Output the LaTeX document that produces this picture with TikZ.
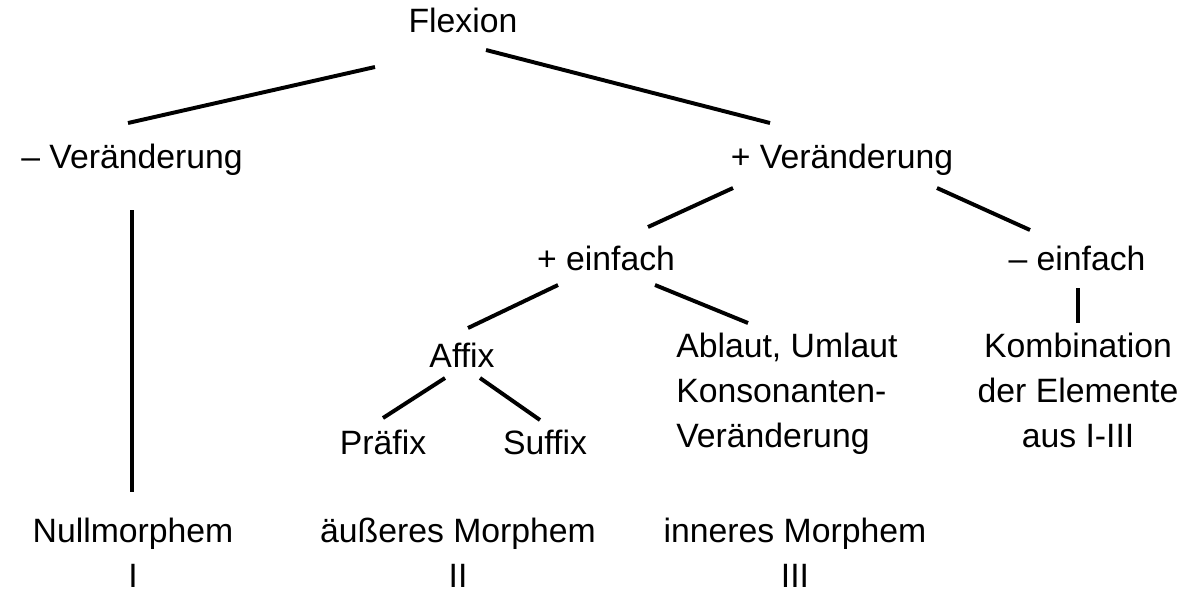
\documentclass[tikz,border=0pt]{standalone}
\usepackage{fontspec}
\setmainfont{Liberation Sans}
\begin{document}
\begin{tikzpicture}[x=0.025cm,y=-0.025cm,
  lbl/.style={font=\fontsize{24}{32}\selectfont,inner sep=0pt,align=center},
  edge/.style={line width=2.8pt}]
\useasboundingbox (0,0) rectangle (1200,600);
\node[lbl] (flex) at (463,20) {Flexion};
\node[lbl] (mv) at (132,160) {– Veränderung};
\node[lbl] (pv) at (842,160) {+ Veränderung};
\node[lbl] (pe) at (606,258) {+ einfach};
\node[lbl] (me) at (1077,258) {– einfach};
\node[lbl] (af) at (462,355) {Affix};
\node[lbl,align=left,anchor=north west] (ab) at (676,333) {Ablaut, Umlaut\\Konsonanten-\\Veränderung};
\node[lbl,anchor=north] (ko) at (1078,333) {Kombination\\der Elemente\\aus I-III};
\node[lbl] (pr) at (383,442) {Präfix};
\node[lbl] (su) at (545,442) {Suffix};
\node[lbl,anchor=north] (nm) at (133,518) {Nullmorphem\\I};
\node[lbl,anchor=north] (am) at (458,518) {äußeres Morphem\\II};
\node[lbl,anchor=north] (im) at (795,518) {inneres Morphem\\III};
\coordinate (a1) at (128,123); \coordinate (a2) at (375,67);
\coordinate (b1) at (486,50); \coordinate (b2) at (770,123);
\coordinate (c1) at (132,210); \coordinate (c2) at (132,492);
\coordinate (d1) at (648,227); \coordinate (d2) at (733,188);
\coordinate (e1) at (937,188); \coordinate (e2) at (1030,230);
\coordinate (f1) at (468,328); \coordinate (f2) at (558,285);
\coordinate (g1) at (655,285); \coordinate (g2) at (748,323);
\coordinate (h1) at (1078,288); \coordinate (h2) at (1078,323);
\coordinate (i1) at (383,418); \coordinate (i2) at (445,378);
\coordinate (j1) at (480,378); \coordinate (j2) at (540,420);
\foreach \p in {a,b,c,d,e,f,g,h,i,j}{\draw[edge] (\p1) -- (\p2);}
\end{tikzpicture}
\end{document}
